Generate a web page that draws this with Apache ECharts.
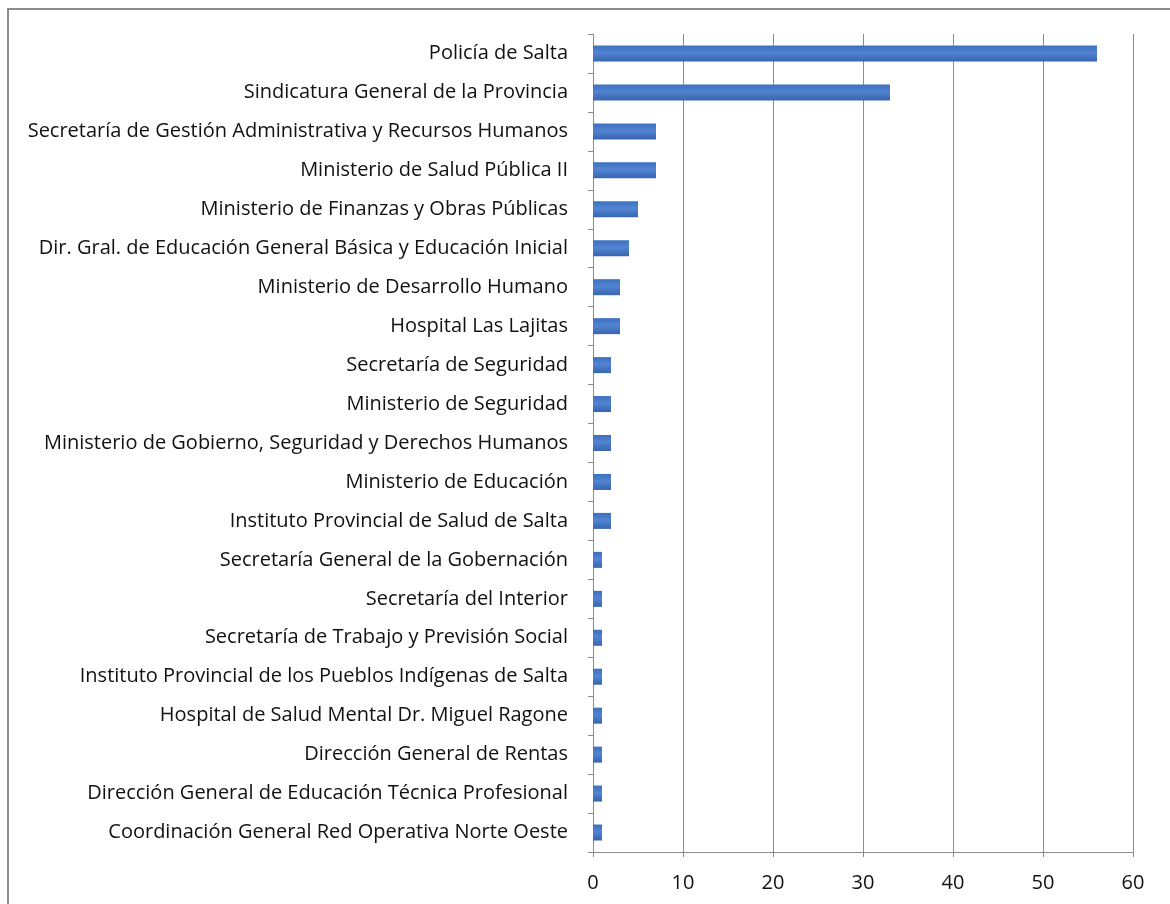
<!DOCTYPE html>
<html>
<head>
<meta charset="utf-8">
<script src="https://cdn.jsdelivr.net/npm/echarts@6/dist/echarts.min.js"></script>
<style>
html,body{margin:0;padding:0;background:#fff;}
#chart{width:1170px;height:904px;}
</style>
</head>
<body>
<div id="chart"></div>
<script>
const categories = [
  "Policía de Salta",
  "Sindicatura General de la Provincia",
  "Secretaría de Gestión Administrativa y Recursos Humanos",
  "Ministerio de Salud Pública II",
  "Ministerio de Finanzas y Obras Públicas",
  "Dir. Gral. de Educación General Básica y Educación Inicial",
  "Ministerio de Desarrollo Humano",
  "Hospital Las Lajitas",
  "Secretaría de Seguridad",
  "Ministerio de Seguridad",
  "Ministerio de Gobierno, Seguridad y Derechos Humanos",
  "Ministerio de Educación",
  "Instituto Provincial de Salud de Salta",
  "Secretaría General de la Gobernación",
  "Secretaría del Interior",
  "Secretaría de Trabajo y Previsión Social",
  "Instituto Provincial de los Pueblos Indígenas de Salta",
  "Hospital de Salud Mental Dr. Miguel Ragone",
  "Dirección General de Rentas",
  "Dirección General de Educación Técnica Profesional",
  "Coordinación General Red Operativa Norte Oeste"
];
const values = [56, 33, 7, 7, 5, 4, 3, 3, 2, 2, 2, 2, 2, 1, 1, 1, 1, 1, 1, 1, 1];
const xTicks = [0, 10, 20, 30, 40, 50, 60];

const chart = echarts.init(document.getElementById('chart'), null, {renderer: 'canvas'});
const font = "'Open Sans', 'Noto Sans', sans-serif";
chart.setOption({
  animation: false,
  backgroundColor: '#ffffff',
  graphic: [{
    type: 'rect',
    shape: {x: 8, y: 9, width: 1300, height: 1100},
    style: {fill: 'none', stroke: '#8c8c8c', lineWidth: 2},
    silent: true
  }],
  grid: {left: 593, right: 37, top: 34, bottom: 52},
  xAxis: {
    type: 'value',
    min: xTicks[0],
    max: xTicks[xTicks.length - 1],
    interval: 10,
    axisLine: {show: true, lineStyle: {color: '#8c8c8c', width: 1}},
    axisTick: {show: true, length: 5, lineStyle: {color: '#8c8c8c'}},
    splitLine: {show: true, lineStyle: {color: '#8c8c8c', width: 1}},
    axisLabel: {color: '#111', fontSize: 20, fontFamily: font, margin: 21}
  },
  yAxis: {
    type: 'category',
    data: categories,
    inverse: true,
    axisLine: {show: true, lineStyle: {color: '#8c8c8c', width: 1}},
    axisTick: {show: true, length: 5, lineStyle: {color: '#8c8c8c'}},
    axisLabel: {color: '#111', fontSize: 20, fontFamily: font, margin: 25},
    splitLine: {show: false}
  },
  series: [{
    type: 'bar',
    data: values,
    barWidth: 16,
    itemStyle: {
      color: new echarts.graphic.LinearGradient(0, 0, 0, 1, [
        {offset: 0, color: '#3d6fc0'},
        {offset: 0.45, color: '#5284d2'},
        {offset: 1, color: '#3765b0'}
      ])
    }
  }]
});
</script>
</body>
</html>
